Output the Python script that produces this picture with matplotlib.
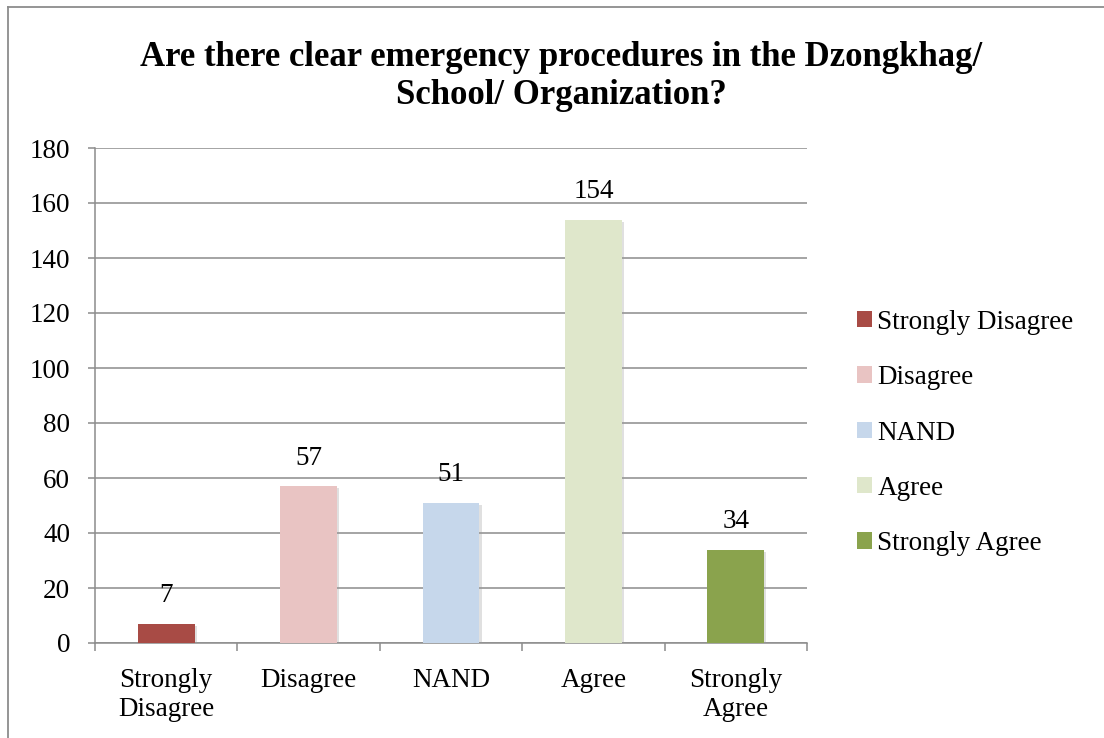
import numpy as np
import matplotlib.pyplot as plt
from matplotlib.patches import Patch
from matplotlib.lines import Line2D
import matplotlib.patheffects as pe

# Survey responses
categories = ['Strongly Disagree', 'Disagree', 'NAND', 'Agree', 'Strongly Agree']
tick_labels = ['Strongly\nDisagree', 'Disagree', 'NAND', 'Agree', 'Strongly\nAgree']
counts = [7, 57, 51, 154, 34]
colors = ['#A84B45', '#E9C4C3', '#C6D7EB', '#DFE7CB', '#8AA34D']
title_lines = ['Are there clear emergency procedures in the Dzongkhag/', 'School/ Organization?']

plt.rcParams['font.family'] = 'Liberation Serif'
grid_col = '#8c8c8c'
fs = 19.5

W, H = 1104, 738
fig = plt.figure(figsize=(W / 100, H / 100), dpi=100)
ax = fig.add_axes([95 / W, 1 - 643 / H, (807 - 95) / W, (643 - 148) / H])

x = np.arange(len(counts))
bars = ax.bar(x, counts, width=0.4, color=colors, zorder=3)
for b in bars:
    b.set_path_effects([pe.SimplePatchShadow(offset=(1.5, -1.5), shadow_rgbFace='#999999', alpha=0.3),
                        pe.Normal()])

for xi, v in zip(x, counts):
    ax.annotate(str(v), (xi, v), xytext=(0, 11), textcoords='offset points',
                ha='center', va='bottom', fontsize=fs)

ax.set_xlim(-0.5, len(counts) - 0.5)
ax.set_ylim(0, 180)
ax.set_yticks(np.arange(0, 181, 20))
ax.tick_params(axis='y', labelsize=fs, length=5, width=1.1, color=grid_col, pad=13)
ax.yaxis.grid(True, color=grid_col, linewidth=1.1, zorder=0)
ax.set_axisbelow(True)

# category boundaries get the tick marks, labels sit between them
ax.set_xticks(np.arange(-0.5, len(counts), 1.0))
ax.set_xticklabels([])
ax.set_xticks(x, minor=True)
ax.set_xticklabels(tick_labels, minor=True, fontsize=fs, linespacing=1.2)
ax.tick_params(axis='x', which='major', length=6, width=1.1, color=grid_col)
ax.tick_params(axis='x', which='minor', length=0, pad=18)

for s in ['top', 'right']:
    ax.spines[s].set_visible(False)
for s in ['left', 'bottom']:
    ax.spines[s].set_color(grid_col)
    ax.spines[s].set_linewidth(1.1)

fig.text(561 / W, 1 - 66 / H, title_lines[0], ha='center', va='baseline',
         fontsize=25, fontweight='bold')
fig.text(561 / W, 1 - 104 / H, title_lines[1], ha='center', va='baseline',
         fontsize=25, fontweight='bold')

handles = [Patch(facecolor=c, edgecolor='none') for c in colors]
fig.legend(handles, categories, loc='center left', bbox_to_anchor=(857 / W, 1 - 433 / H),
           frameon=False, fontsize=fs, handlelength=0.55, handleheight=0.55,
           handletextpad=0.2, labelspacing=1.12, borderaxespad=0, borderpad=0)

# outer chart border (left and top edges)
fig.add_artist(Line2D([8 / W, 8 / W], [0, 1 - 7 / H], transform=fig.transFigure,
                      color=grid_col, linewidth=1.3))
fig.add_artist(Line2D([8 / W, 1], [1 - 7 / H, 1 - 7 / H], transform=fig.transFigure,
                      color=grid_col, linewidth=1.3))

fig.savefig('out.png', dpi=100)
